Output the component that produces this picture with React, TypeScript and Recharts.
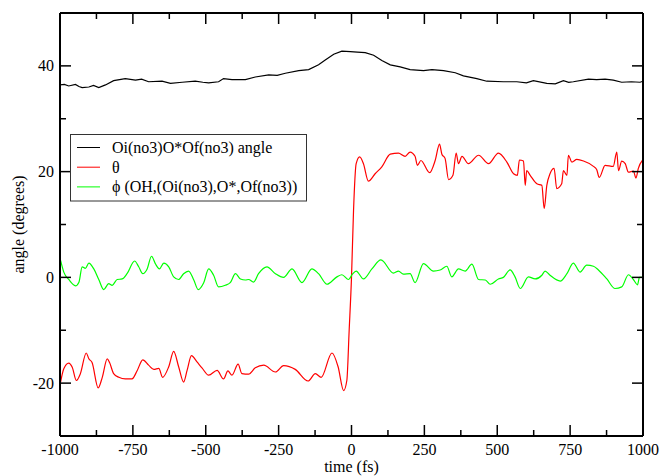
import React from 'react';
import { LineChart, Line, XAxis, YAxis, Legend, Label } from 'recharts';

const FONT = 'Liberation Serif, Tinos, Times New Roman, DejaVu Serif, serif';

const xTicks = [-1000, -875, -750, -625, -500, -375, -250, -125, 0, 125, 250, 375, 500, 625, 750, 875, 1000];
const xMajorTicks = [-1000, -750, -500, -250, 0, 250, 500, 750, 1000];
const yTicks = [-20, -10, 0, 10, 20, 30, 40];
const yMajorTicks = [-20, 0, 20, 40];

const seriesNames = ['Oi(no3)O*Of(no3) angle', 'θ', 'ϕ (OH,(Oi(no3),O*,Of(no3))'];
const seriesColors = ['#000000', '#ff0000', '#00ff00'];

const blackT = [-1000, -985, -970, -947, -935, -924, -901, -885, -867, -844, -816, -776, -741, -720, -696, -650, -621, -581, -536, -510, -490, -456, -439, -410, -364, -330, -284, -255, -227, -181, -147, -113, -90, -61, -33, -4, 20, 47, 76, 104, 133, 167, 201, 247, 276, 316, 356, 384, 430, 464, 521, 567, 600, 624, 670, 699, 727, 745, 761, 813, 841, 870, 898, 927, 960, 990, 1000];
const blackV = [36.4, 36.5, 36.2, 36.5, 36.1, 35.9, 36.0, 36.3, 35.9, 36.4, 37.2, 37.6, 37.3, 37.5, 37.0, 37.1, 36.7, 36.9, 37.1, 36.9, 36.8, 37.0, 37.6, 37.4, 37.4, 37.9, 38.3, 38.2, 38.6, 39.1, 39.3, 40.2, 41.1, 42.2, 42.8, 42.7, 42.6, 42.5, 42.0, 41.0, 40.2, 39.8, 39.3, 39.1, 39.3, 39.1, 38.7, 38.1, 37.6, 37.1, 37.0, 37.0, 36.8, 37.2, 36.7, 36.6, 37.2, 36.9, 37.0, 37.5, 37.4, 37.5, 37.3, 36.9, 37.0, 36.9, 37.1];

const redT = [-998, -987, -970, -958, -944, -930, -910, -901, -890, -869, -855, -838, -830, -816, -798, -776, -753, -735, -716, -696, -678, -661, -648, -627, -610, -593, -576, -564, -549, -530, -513, -490, -461, -439, -424, -410, -389, -376, -353, -330, -301, -261, -233, -193, -149, -124, -104, -67, -46, -27, -16, -8, 0, 7, 16, 28, 41, 58, 81, 104, 133, 161, 184, 201, 218, 226, 238, 268, 287, 302, 310, 321, 333, 348, 359, 367, 379, 401, 436, 470, 504, 533, 556, 569, 576, 590, 596, 601, 613, 636, 653, 661, 670, 681, 695, 704, 721, 727, 739, 744, 756, 773, 796, 830, 841, 850, 870, 898, 910, 916, 927, 939, 950, 967, 976, 984, 999];
const redV = [-19.8, -17.3, -16.2, -17.0, -19.5, -18.2, -14.3, -15.4, -16.1, -20.9, -18.9, -15.4, -16.1, -18.2, -18.9, -19.2, -19.2, -17.6, -15.6, -16.6, -17.4, -17.2, -18.9, -16.9, -14.0, -16.9, -19.8, -17.6, -14.8, -16.0, -17.1, -18.5, -17.6, -19.2, -17.7, -18.5, -16.4, -18.2, -18.3, -17.1, -16.6, -17.9, -16.7, -17.4, -19.6, -18.2, -18.9, -14.3, -16.9, -21.4, -19.5, -10.0, 0.0, 12.7, 21.5, 22.8, 21.5, 18.2, 19.6, 20.9, 23.3, 23.5, 22.9, 23.7, 22.9, 21.2, 22.1, 19.8, 22.1, 25.2, 23.3, 22.5, 18.5, 19.3, 23.5, 21.5, 22.9, 21.5, 23.1, 21.5, 23.5, 21.8, 19.6, 19.3, 22.2, 22.0, 17.4, 20.2, 19.3, 17.7, 17.4, 13.0, 17.4, 19.6, 20.6, 16.8, 17.7, 20.2, 19.3, 23.1, 21.8, 22.3, 22.0, 21.0, 20.4, 18.9, 21.2, 21.0, 23.7, 20.2, 22.0, 21.5, 19.9, 20.1, 18.8, 20.6, 22.2];

const greenT = [-998, -987, -970, -947, -935, -924, -913, -901, -884, -867, -850, -833, -821, -804, -787, -770, -744, -730, -716, -701, -686, -673, -659, -644, -627, -610, -593, -576, -559, -541, -526, -507, -490, -473, -456, -433, -416, -398, -381, -364, -353, -336, -319, -290, -261, -233, -204, -170, -136, -113, -84, -50, -33, -10, 2, 16, 41, 70, 101, 144, 161, 178, 201, 218, 247, 281, 304, 327, 344, 367, 390, 413, 436, 459, 476, 504, 521, 544, 561, 579, 607, 630, 653, 664, 681, 716, 739, 761, 784, 807, 830, 847, 876, 904, 927, 950, 967, 981, 988, 999];
const greenV = [3.2, 1.0, -0.4, -1.6, -0.9, 2.0, 1.7, 2.7, 1.6, -0.4, -2.3, -1.2, -1.5, -0.4, -0.3, 0.7, 3.1, 2.0, 0.7, 1.6, 4.0, 2.6, 1.6, 2.7, 2.0, 0.1, -0.4, 0.7, 1.2, -0.5, -2.3, -1.0, 1.6, 0.4, -1.8, -1.5, -1.0, 0.7, -0.3, -0.5, -0.4, -0.9, 0.7, 2.0, 0.7, 0.0, 1.6, -1.0, 1.6, 0.7, -1.3, 0.1, 0.5, -0.4, 0.5, 1.2, -0.3, 1.6, 3.3, 0.8, 1.2, 0.6, 0.7, -1.0, 2.6, 1.2, 1.4, 2.1, 0.1, 1.6, 1.2, 2.5, -0.4, -0.5, -1.3, -0.3, 0.0, 1.4, 0.1, -2.1, 0.1, -0.3, 0.4, 1.2, 0.4, -0.7, 0.7, 2.7, 1.0, 2.3, 2.1, 1.4, -0.3, -2.1, -1.8, 0.5, -0.4, -1.4, 0.0, 0.0];

const zip = (ts: number[], vs: number[]) => ts.map((t, i) => ({ t, v: vs[i] }));
const blackData = zip(blackT, blackV);
const redData = zip(redT, redV);
const greenData = zip(greenT, greenV);

const MAJOR = 11;
const MINOR = 6;

const textStyle = { fontFamily: FONT, fontSize: 16 };

function BottomTick(props: any) {
  const { x, y, payload } = props;
  const major = xMajorTicks.includes(payload.value);
  return (
    <g>
      <line x1={x} x2={x} y1={y} y2={y - (major ? MAJOR : MINOR)} stroke="#000" strokeWidth={1.5} />
      {major && (
        <text x={x} y={y + 19} textAnchor="middle" style={textStyle} fill="#000">
          {payload.value}
        </text>
      )}
    </g>
  );
}

function TopTick(props: any) {
  const { x, y, payload } = props;
  const major = xMajorTicks.includes(payload.value);
  return <line x1={x} x2={x} y1={y} y2={y + (major ? MAJOR : MINOR)} stroke="#000" strokeWidth={1.5} />;
}

function LeftTick(props: any) {
  const { x, y, payload } = props;
  const major = yMajorTicks.includes(payload.value);
  return (
    <g>
      <line x1={x} x2={x + (major ? MAJOR : MINOR)} y1={y} y2={y} stroke="#000" strokeWidth={1.5} />
      {major && (
        <text x={x - 6} y={y + 5.5} textAnchor="end" style={textStyle} fill="#000">
          {payload.value}
        </text>
      )}
    </g>
  );
}

function RightTick(props: any) {
  const { x, y, payload } = props;
  const major = yMajorTicks.includes(payload.value);
  return <line x1={x} x2={x - (major ? MAJOR : MINOR)} y1={y} y2={y} stroke="#000" strokeWidth={1.5} />;
}

function LegendBox() {
  const w = 237;
  const h = 68;
  return (
    <svg width={w} height={h} style={{ display: 'block' }}>
      <rect x={0.5} y={0.5} width={w - 1} height={h - 1.5} fill="#fff" stroke="#333" strokeWidth={1} />
      {seriesNames.map((name, i) => {
        const cy = 13.5 + i * 19.7;
        return (
          <g key={name}>
            <line x1={7} x2={30} y1={cy} y2={cy} stroke={seriesColors[i]} strokeWidth={1} />
            <text x={42} y={cy + 5.5} style={textStyle} fill="#000">
              {name}
            </text>
          </g>
        );
      })}
    </svg>
  );
}

const XTitle = (props: any) => {
  const vb = props.viewBox || { x: 0, y: 0, width: 0, height: 0 };
  return (
    <text x={vb.x + vb.width / 2} y={vb.y + 36} textAnchor="middle" style={textStyle} fill="#000">
      time (fs)
    </text>
  );
};

const YTitle = (props: any) => {
  const vb = props.viewBox || { x: 0, y: 0, width: 0, height: 0 };
  const cx = vb.x + 18;
  const cy = vb.y + vb.height / 2;
  return (
    <text x={cx} y={cy} transform={`rotate(-90, ${cx}, ${cy})`} textAnchor="middle" dominantBaseline="central" style={textStyle} fill="#000">
      angle (degrees)
    </text>
  );
};

export default function App() {
  return (
    <div style={{ position: 'absolute', left: 0, top: 0, width: 661, height: 476, background: '#fff', fontFamily: FONT }}>
      <LineChart width={661} height={476} margin={{ top: 0, right: 8, bottom: 0, left: 0 }} style={{ fontFamily: FONT }}>
        <XAxis
          xAxisId="b"
          dataKey="t"
          type="number"
          orientation="bottom"
          domain={[-1000, 1000]}
          ticks={xTicks}
          interval={0}
          allowDataOverflow
          height={40}
          tickLine={false}
          tickSize={0}
          tickMargin={0}
          axisLine={{ stroke: '#000', strokeWidth: 2 }}
          tick={<BottomTick />}
        >
          <Label content={<XTitle />} />
        </XAxis>
        <XAxis
          xAxisId="t"
          dataKey="t"
          type="number"
          orientation="top"
          domain={[-1000, 1000]}
          ticks={xTicks}
          interval={0}
          allowDataOverflow
          height={13}
          tickLine={false}
          tickSize={0}
          tickMargin={0}
          axisLine={{ stroke: '#000', strokeWidth: 2 }}
          tick={<TopTick />}
        />
        <YAxis
          yAxisId="l"
          type="number"
          orientation="left"
          domain={[-30, 50]}
          ticks={yTicks}
          interval={0}
          allowDataOverflow
          width={60}
          tickLine={false}
          tickSize={0}
          tickMargin={0}
          axisLine={{ stroke: '#000', strokeWidth: 2 }}
          tick={<LeftTick />}
        >
          <Label content={<YTitle />} />
        </YAxis>
        <YAxis
          yAxisId="r"
          type="number"
          orientation="right"
          domain={[-30, 50]}
          ticks={yTicks}
          interval={0}
          allowDataOverflow
          width={10}
          tickLine={false}
          tickSize={0}
          tickMargin={0}
          axisLine={{ stroke: '#000', strokeWidth: 2 }}
          tick={<RightTick />}
        />
        <Line xAxisId="b" yAxisId="l" data={blackData} dataKey="v" name={seriesNames[0]} type="linear" stroke={seriesColors[0]} strokeWidth={1.2} dot={false} activeDot={false} isAnimationActive={false} />
        <Line xAxisId="b" yAxisId="l" data={redData} dataKey="v" name={seriesNames[1]} type="monotone" stroke={seriesColors[1]} strokeWidth={1.2} dot={false} activeDot={false} isAnimationActive={false} />
        <Line xAxisId="b" yAxisId="l" data={greenData} dataKey="v" name={seriesNames[2]} type="monotone" stroke={seriesColors[2]} strokeWidth={1.2} dot={false} activeDot={false} isAnimationActive={false} />
        <Legend
          layout="horizontal"
          verticalAlign="middle"
          align="center"
          wrapperStyle={{ position: 'absolute', left: 70, top: 134, width: 237, height: 68 }}
          content={() => <LegendBox />}
        />
      </LineChart>
    </div>
  );
}
